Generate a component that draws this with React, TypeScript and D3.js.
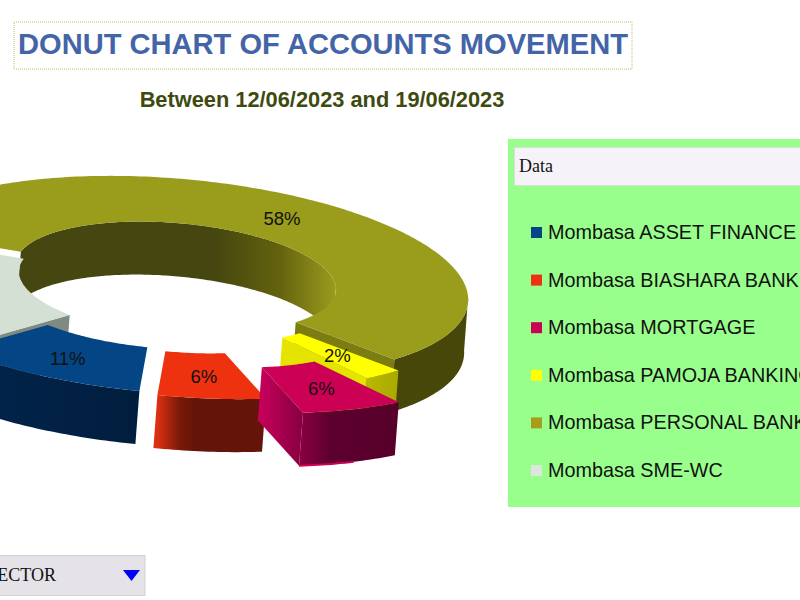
import React from "react";
import * as d3 from "d3";

const categories = [
  "Mombasa ASSET FINANCE",
  "Mombasa BIASHARA BANKING",
  "Mombasa MORTGAGE",
  "Mombasa PAMOJA BANKING",
  "Mombasa PERSONAL BANKING",
  "Mombasa SME-WC",
];
const shares = [11, 6, 6, 2.4, 57.6, 17];
const topColors = ["#044585", "#ee3210", "#cc0055", "#ffff00", "#9a9c1c", "#d3e0d3"];
const legendColors = ["#044585", "#ee3210", "#cc0055", "#ffff00", "#a89c1c", "#dde6dd"];
const cutColors = ["", "", "", "#e4e400", "#7c7d10", "#7f8a80"];
const wallStops: [number, string][][] = [
  [[0, "#02254d"], [1, "#011d3d"]],
  [[0, "#dc3010"], [0.2, "#7a1a08"], [0.35, "#641408"], [1, "#641408"]],
  [[0, "#c4005a"], [0.25, "#900045"], [0.5, "#5e002f"], [1, "#560029"]],
  [[0, "#e8e800"], [1, "#a8a800"]],
  [[0, "#48470a"], [1, "#48470a"]],
  [[0, "#7f8a80"], [1, "#7f8a80"]],
];
const explodeX = [-19, -1, 36, 4, 0, 3];
const explodeY = [17, 21, 35, 11, 0, 7];
const paintOrder = [4, 5, 3, 0, 1, 2];

const centerX = 176;
const centerY = 277;
const innerR = 160;
const outerR = 292;
const squash = 0.34;
const roll = 0.066;
const shear = 0.1;
const depth = 53;
const baseShift = -4;
const tau = Math.PI * 2;
const deg = Math.PI / 180;

const slices = d3
  .pie<number>()
  .sort(null)
  .startAngle(225 * deg)
  .endAngle(225 * deg - tau)(shares);

const color = d3.scaleOrdinal<number, string>().domain(d3.range(6)).range(topColors);
const legendY = d3.scalePoint<number>().domain(d3.range(6)).range([232, 470]);

type P = [number, number];
const project = (i: number, a: number, r: number, low = false): P => {
  const x = r * Math.sin(a);
  const y = -r * Math.cos(a) * squash;
  return [
    centerX + explodeX[i] + x + y * shear + (low ? baseShift : 0),
    centerY + explodeY[i] + y + x * roll + (low ? depth : 0),
  ];
};
const sample = (a0: number, a1: number) => {
  const n = Math.max(2, Math.ceil(Math.abs(a1 - a0) / deg));
  return d3.range(n + 1).map((k) => a0 + ((a1 - a0) * k) / n);
};
const line = d3.line<P>();
const poly = (pts: P[]) => (line(pts) || "") + "Z";
const band = (i: number, angles: number[], r: number) =>
  poly([
    ...angles.map((a) => project(i, a, r)),
    ...angles.slice().reverse().map((a) => project(i, a, r, true)),
  ]);
const cutFace = (i: number, a: number) =>
  poly([
    project(i, a, innerR),
    project(i, a, outerR),
    project(i, a, outerR, true),
    project(i, a, innerR, true),
  ]);

const startFaceShown = [false, false, true, true, true, false];
const endFaceShown = [false, false, false, false, false, true];
const innerWallShown = [false, false, false, false, true, false];

export default function App() {
  return (
    <svg
      width={800}
      height={600}
      viewBox="0 0 800 600"
      style={{ position: "absolute", left: 0, top: 0, background: "#fff" }}
    >
      <defs>
        {slices.map((s, i) => {
          const walls = [
            ...sample(s.startAngle, s.endAngle).filter((a) => Math.cos(a) <= 0).map((a) => project(i, a, outerR)[0]),
            project(i, s.startAngle, innerR)[0],
            project(i, s.endAngle, innerR)[0],
          ];
          return (
            <linearGradient
              key={i}
              id={`wall${i}`}
              gradientUnits="userSpaceOnUse"
              x1={d3.min(walls)}
              x2={d3.max(walls)}
              y1={0}
              y2={0}
            >
              {wallStops[i].map(([o, c], k) => (
                <stop key={k} offset={o} stopColor={c} />
              ))}
            </linearGradient>
          );
        })}
        <linearGradient id="hole" x1="0" x2="1" y1="0" y2="0">
          <stop offset="0" stopColor="#464610" />
          <stop offset="0.62" stopColor="#464610" />
          <stop offset="0.82" stopColor="#62620f" />
          <stop offset="1" stopColor="#9a9c1c" />
        </linearGradient>
      </defs>

      <rect x={14} y={22} width={618} height={47} fill="#fff" stroke="#b9bf62" strokeDasharray="1 1" />
      <text x={323} y={54} textAnchor="middle" fontFamily="Liberation Sans" fontWeight="bold" fontSize={29.1} fill="#4464a8">
        DONUT CHART OF ACCOUNTS MOVEMENT
      </text>
      <text x={322} y={107} textAnchor="middle" fontFamily="Liberation Sans" fontWeight="bold" fontSize={21.8} fill="#3e4a10">
        Between 12/06/2023 and 19/06/2023
      </text>

      {paintOrder.map((i) => {
        const s = slices[i];
        const angles = sample(s.startAngle, s.endAngle);
        const outerVisible = angles.filter((a) => Math.cos(a) <= 0);
        const innerVisible = angles.filter((a) => Math.cos(a) >= 0);
        const fill = color(i);
        const wall = `url(#wall${i})`;
        const cut = cutColors[i] || wall;
        const top = poly([
          ...angles.map((a) => project(i, a, outerR)),
          ...angles.slice().reverse().map((a) => project(i, a, innerR)),
        ]);
        const sliver = i === 2 ? line(angles.slice(0, 13).map((a) => project(i, a, outerR, true))) : null;
        return (
          <g key={i}>
            {innerWallShown[i] && <path d={band(i, innerVisible, innerR)} fill="url(#hole)" />}
            {startFaceShown[i] && <path d={cutFace(i, s.startAngle)} fill={cut} />}
            {endFaceShown[i] && <path d={cutFace(i, s.endAngle)} fill={cut} />}
            {outerVisible.length > 1 && <path d={band(i, outerVisible, outerR)} fill={wall} />}
            {sliver && <path d={sliver} fill="none" stroke={fill} strokeWidth={2} />}
            <path d={top} fill={fill} />
          </g>
        );
      })}

      {slices.map((s, i) => {
        const mid = (s.startAngle + s.endAngle) / 2;
        const [x, y] = project(i, mid, (innerR + outerR) / 2);
        return (
          <text key={i} x={x} y={y + 1} dy="0.35em" textAnchor="middle" fontFamily="Liberation Sans" fontSize={18.5} fill="#111">
            {Math.round(s.value)}%
          </text>
        );
      })}

      <rect x={508} y={139} width={300} height={368} fill="#99ff8c" />
      <rect x={514.5} y={147.5} width={300} height={38} fill="#f5f3f8" stroke="#dcdce0" />
      <text x={519} y={172} fontFamily="Liberation Serif" fontSize={18} fill="#111">
        Data
      </text>
      {categories.map((c, i) => (
        <g key={c}>
          <rect x={531} y={(legendY(i) as number) - 5} width={11} height={11} fill={legendColors[i]} />
          <text x={548} y={legendY(i) as number} dy="0.35em" fontFamily="Liberation Sans" fontSize={19.8} fill="#111">
            {c}
          </text>
        </g>
      ))}

      <rect x={-10} y={555.5} width={155} height={40} fill="#e6e3e8" stroke="#cfcfd2" />
      <text x={56} y={581} textAnchor="end" fontFamily="Liberation Serif" fontSize={18} fill="#111">
        SECTOR
      </text>
      <path d={poly([[123, 570], [140, 570], [131.5, 581]])} fill="#0000ff" />
    </svg>
  );
}
